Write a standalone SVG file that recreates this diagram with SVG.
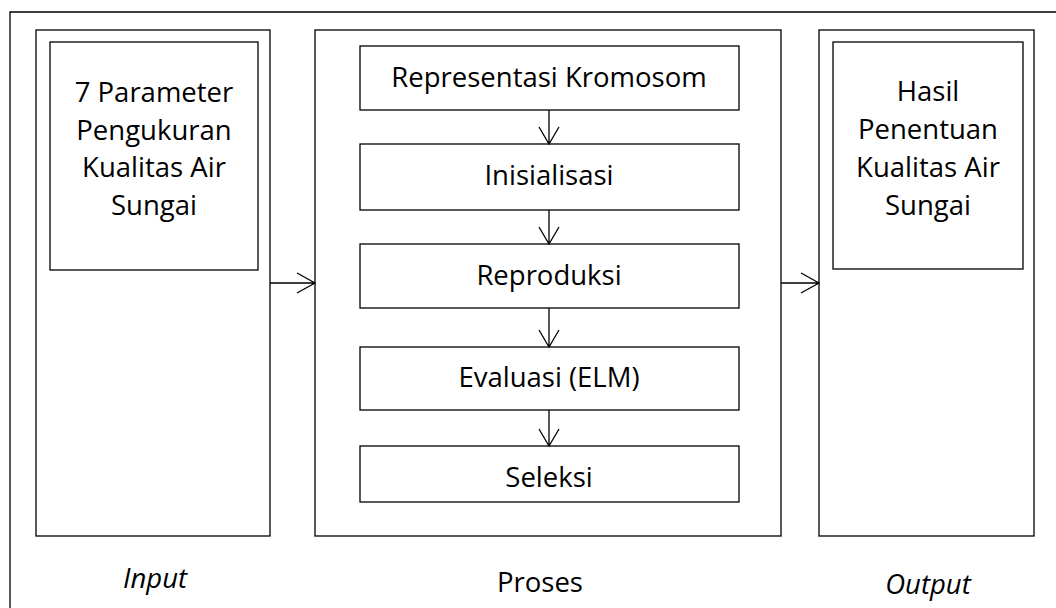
<svg xmlns="http://www.w3.org/2000/svg" width="1056" height="608" viewBox="0 0 1056 608">
<style>
rect{fill:#fff;stroke:#000;stroke-width:1.3}
text{font-family:"Open Sans","Liberation Sans",sans-serif;font-size:27.5px;fill:#000;text-anchor:middle}
.it{font-style:italic}
.c{fill:none;stroke:#000;stroke-width:1.3}
</style>
<rect width="1056" height="608" style="stroke:none"/>
<path class="c" d="M10,620 V12 H1070"/>
<g id="input">
<rect x="36" y="30" width="234" height="506"/>
<rect x="50" y="42" width="208" height="228"/>
<text x="154" y="102">7 Parameter</text>
<text x="154" y="140">Pengukuran</text>
<text x="154" y="177">Kualitas Air</text>
<text x="154" y="215">Sungai</text>
</g>
<g id="proses">
<rect x="315" y="30" width="466" height="506"/>
</g>
<g id="representasi"><rect x="360" y="46" width="379" height="64"/><text x="549" y="87">Representasi Kromosom</text></g>
<g id="inisialisasi"><rect x="360" y="144" width="379" height="66"/><text x="549" y="185">Inisialisasi</text></g>
<g id="reproduksi"><rect x="360" y="244" width="379" height="64"/><text x="549" y="285">Reproduksi</text></g>
<g id="evaluasi"><rect x="360" y="347" width="379" height="63"/><text x="549" y="387">Evaluasi (ELM)</text></g>
<g id="seleksi"><rect x="360" y="446" width="379" height="56"/><text x="549" y="487">Seleksi</text></g>
<g id="output">
<rect x="819" y="30" width="215" height="506"/>
<rect x="833" y="42" width="190" height="227"/>
<text x="928" y="101">Hasil</text>
<text x="928" y="139">Penentuan</text>
<text x="928" y="177">Kualitas Air</text>
<text x="928" y="215">Sungai</text>
</g>
<g id="labels">
<text class="it" x="155" y="588">Input</text>
<text x="540" y="592">Proses</text>
<text class="it" x="928" y="594">Output</text>
</g>
<g id="connectors" class="c">
<path d="M270,283 H315 M297,273 L315,283 L297,293"/>
<path d="M781,283 H819 M801,273 L819,283 L801,293"/>
<path d="M549,110 V144 M539,127 L549,144 L559,127"/>
<path d="M549,210 V244 M539,227 L549,244 L559,227"/>
<path d="M549,308 V347 M539,330 L549,347 L559,330"/>
<path d="M549,410 V446 M539,429 L549,446 L559,429"/>
</g>
</svg>
